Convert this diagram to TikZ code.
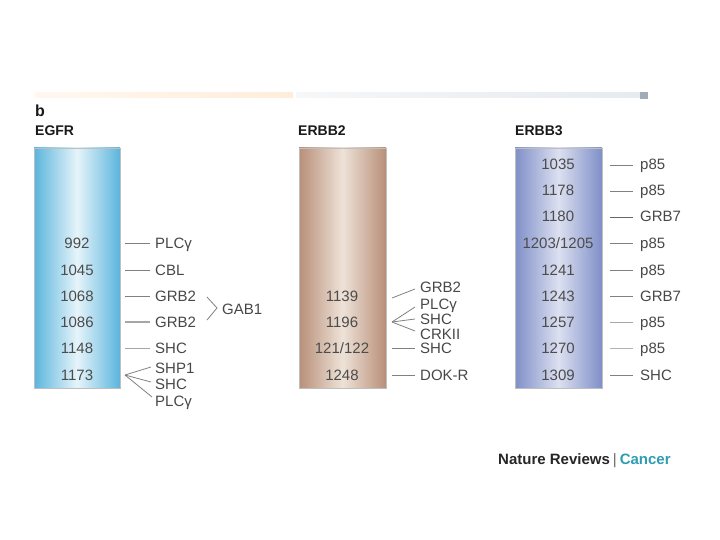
\documentclass[tikz,border=0pt]{standalone}
\usepackage{fontspec}
\setmainfont{Liberation Sans}
\begin{document}
\begin{tikzpicture}[x=1pt,y=-1pt,
  num/.style={anchor=base,text=black!70,font=\fontsize{15}{17}\selectfont,inner sep=0pt},
  lab/.style={anchor=base west,text=black!72,font=\fontsize{15}{17}\selectfont,inner sep=0pt},
  head/.style={anchor=base west,text=black!90,font=\fontsize{14}{16}\selectfont\bfseries,inner sep=0pt},
  conn/.style={draw=black!50,line width=0.8pt},
  boxline/.style={draw=black!25,line width=0.4pt}]
\definecolor{egfrEdge}{HTML}{5BB5DD}
\definecolor{egfrMid}{HTML}{E6F4FA}
\definecolor{erbbTwoEdge}{HTML}{B88F78}
\definecolor{erbbTwoMid}{HTML}{EEE2D8}
\definecolor{erbbThreeEdge}{HTML}{7F8FC8}
\definecolor{erbbThreeMid}{HTML}{DCE0F0}
\definecolor{cancerTeal}{HTML}{2E9DB3}
\definecolor{barGrey}{HTML}{E6EBEF}
\definecolor{barSquare}{HTML}{A3ABB6}
\useasboundingbox (0,0) rectangle (720,540);
% top bar
\fill[left color=orange!6!white, right color=orange!14!white] (35,93) rectangle (293,98);
\fill[left color=barGrey!40!white, right color=barGrey] (296,93) rectangle (640,98);
\fill[barSquare] (640,92) rectangle (648,99);
% headings
\node[head,font=\fontsize{16}{16}\selectfont\bfseries] (b) at (35,117) {b};
\node[head] (hEGFR) at (35,136) {EGFR};
\node[head] (hERBBtwo) at (298,136) {ERBB2};
\node[head] (hERBBthree) at (515,136) {ERBB3};
% boxes
\path[boxline,left color=egfrEdge,right color=egfrEdge,middle color=egfrMid] (34,148) rectangle (120,388);
\path[boxline,left color=erbbTwoEdge,right color=erbbTwoEdge,middle color=erbbTwoMid] (299,148) rectangle (386,388);
\path[boxline,left color=erbbThreeEdge,right color=erbbThreeEdge,middle color=erbbThreeMid] (515,148) rectangle (602,388);
% EGFR
\node[num] (e1) at (77,248) {992};
\node[num] (e2) at (77,275) {1045};
\node[num] (e3) at (77,301) {1068};
\node[num] (e4) at (77,327) {1086};
\node[num] (e5) at (77,353) {1148};
\node[num] (e6) at (77,380) {1173};
\node[lab] (l1) at (155,248) {PLCγ};
\node[lab] (l2) at (155,275) {CBL};
\node[lab] (l3) at (155,301) {GRB2};
\node[lab] (l4) at (155,327) {GRB2};
\node[lab] (l5) at (155,353) {SHC};
\node[lab] (l6) at (155,373) {SHP1};
\node[lab] (l7) at (155,389) {SHC};
\node[lab] (l8) at (155,406) {PLCγ};
\node[lab] (gab) at (222,314) {GAB1};
\coordinate (c1a) at (125,243); \coordinate (c1b) at (150,243);
\coordinate (c2a) at (125,270); \coordinate (c2b) at (150,270);
\coordinate (c3a) at (125,296); \coordinate (c3b) at (150,296);
\coordinate (c4a) at (125,322); \coordinate (c4b) at (150,322);
\coordinate (c5a) at (125,348); \coordinate (c5b) at (150,348);
\coordinate (c6) at (125,375);
\draw[conn] (c1a) -- (c1b);
\draw[conn] (c2a) -- (c2b);
\draw[conn] (c3a) -- (c3b);
\draw[conn,black!35,line width=1.2pt] (c4a) -- (c4b);
\draw[conn,black!35] (c5a) -- (c5b);
\draw[conn] (c6) -- (151,367);
\draw[conn] (c6) -- (151,382);
\draw[conn] (c6) -- (152,397);
\draw[conn] (207,297) -- (217,308) -- (207,320);
% ERBB2
\node[num] (f1) at (342,301) {1139};
\node[num] (f2) at (342,327) {1196};
\node[num] (f3) at (342,353) {121/122};
\node[num] (f4) at (342,380) {1248};
\node[lab] (m1) at (420,292) {GRB2};
\node[lab] (m2) at (420,309) {PLCγ};
\node[lab] (m3) at (420,324) {SHC};
\node[lab] (m4) at (420,339) {CRKII};
\node[lab] (m5) at (420,353) {SHC};
\node[lab] (m6) at (420,380) {DOK-R};
\coordinate (d1) at (392,298);
\coordinate (d2) at (392,322);
\draw[conn] (d1) -- (415,289);
\draw[conn] (d2) -- (415,307);
\draw[conn] (d2) -- (415,319);
\draw[conn] (d2) -- (415,331);
\coordinate (d3a) at (392,348); \coordinate (d3b) at (415,348);
\coordinate (d4a) at (392,375); \coordinate (d4b) at (415,375);
\draw[conn] (d3a) -- (d3b);
\draw[conn] (d4a) -- (d4b);
% ERBB3
\foreach \n/\y/\t/\p/\s in {1/170/1035/p85/50, 2/196/1178/p85/50, 3/222/1180/GRB7/60, 4/248/1203\slash1205/p85/50, 5/275/1241/p85/50, 6/301/1243/GRB7/50, 7/327/1257/p85/35, 8/353/1270/p85/30, 9/380/1309/SHC/50} {
  \node[num] (g\n) at (558,\y) {\t};
  \node[lab] (h\n) at (640,\y) {\p};
  \coordinate (k\n a) at (610,\y-5);
  \coordinate (k\n b) at (633,\y-5);
  \draw[conn,draw=black!\s] (k\n a) -- (k\n b);
}
% footer
\node[anchor=base west,inner sep=0pt,font=\fontsize{15}{17}\selectfont\bfseries] (nr) at (498,464) {\textcolor{black!85}{Nature Reviews}\hspace{3pt}\textcolor{black!60}{\mdseries|}\hspace{3pt}\textcolor{cancerTeal}{Cancer}};
\end{tikzpicture}
\end{document}
